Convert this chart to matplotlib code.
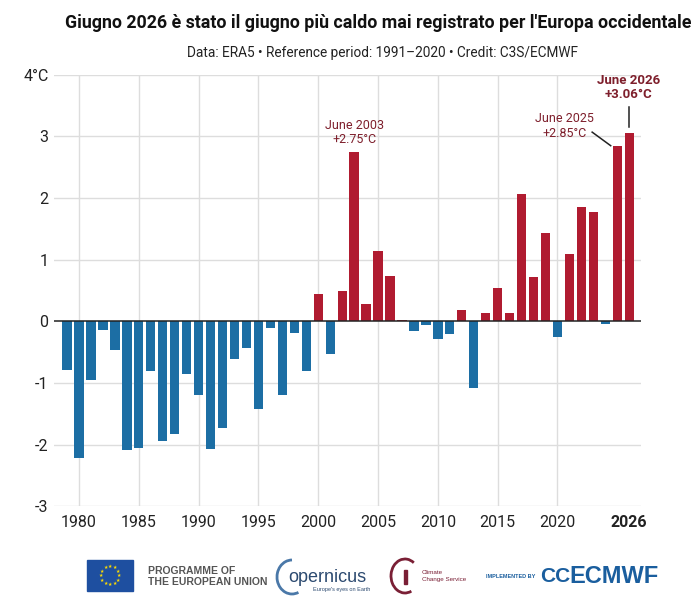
import numpy as np
import matplotlib
matplotlib.use("Agg")
import matplotlib.pyplot as plt
from matplotlib.patches import Rectangle, Arc
from matplotlib import font_manager

# anomalies of June temperature, western Europe (ERA5, vs 1991-2020)
years = list(range(1979, 2027))
anomaly = [-0.79, -2.21, -0.95, -0.14, -0.47, -2.09, -2.06, -0.81, -1.94, -1.82,
           -0.85, -1.20, -2.07, -1.72, -0.61, -0.43, -1.42, -0.10, -1.19, -0.18,
           -0.81, 0.45, -0.52, 0.50, 2.75, 0.29, 1.15, 0.74, 0.02, -0.16,
           -0.06, -0.28, -0.21, 0.19, -1.08, 0.14, 0.54, 0.14, 2.06, 0.72,
           1.43, -0.26, 1.10, 1.86, 1.78, -0.04, 2.85, 3.06]
xticks = [1980, 1985, 1990, 1995, 2000, 2005, 2010, 2015, 2020, 2026]
yticks = [-3, -2, -1, 0, 1, 2, 3, 4]
ylabels = ["-3", "-2", "-1", "0", "1", "2", "3", "4°C"]

names = {f.name for f in font_manager.fontManager.ttflist}
fam = "Liberation Sans Narrow" if "Liberation Sans Narrow" in names else "Roboto"
plt.rcParams['font.family'] = [fam, 'DejaVu Sans']

BLUE = "#1c6ea4"
RED = "#b01b30"
DARKRED = "#7e1f2c"
GRID = "#dddddd"

fig = plt.figure(figsize=(7, 6.08), dpi=100)
ax = fig.add_axes([0.077, 0.167, 0.839, 0.710])

colors = [RED if v > 0 else BLUE for v in anomaly]
ax.bar(years, anomaly, width=0.78, color=colors, zorder=3)

ax.set_xlim(1977.9, 2027.0)
ax.set_ylim(-3, 4)
for x in xticks[:-1]:
    ax.axvline(x, color=GRID, lw=1, zorder=1)
for y in yticks:
    if y != 0:
        ax.axhline(y, color=GRID, lw=1, zorder=1)
ax.axhline(0, color="#222222", lw=1.1, zorder=4)

for s in ax.spines.values():
    s.set_visible(False)
ax.tick_params(length=0, labelsize=11.5, colors="#222222")
ax.set_yticks(yticks)
ax.set_yticklabels(ylabels)
ax.set_xticks(xticks)
ax.set_xticklabels([str(x) for x in xticks])
ax.get_xticklabels()[-1].set_fontweight("bold")
ax.tick_params(axis="x", pad=6)
ax.tick_params(axis="y", pad=4)

# annotations
ax.text(2003, 2.84, "June 2003\n+2.75°C", ha="center", va="bottom",
        color=DARKRED, fontsize=9, linespacing=1.15, zorder=5)
ax.text(2020.6, 2.95, "June 2025\n+2.85°C", ha="center", va="bottom",
        color=DARKRED, fontsize=9, linespacing=1.15, zorder=5)
ax.plot([2022.9, 2024.45], [3.07, 2.85], color="#222222", lw=1.1, zorder=5)
ax.text(2025.95, 3.57, "June 2026\n+3.06°C", ha="center", va="bottom",
        color=DARKRED, fontsize=9.5, fontweight="bold", linespacing=1.15, zorder=5)
ax.plot([2026, 2026], [3.15, 3.47], color="#222222", lw=1.1, zorder=5)

# titles
fig.text(0.541, 0.962, "Giugno 2026 è stato il giugno più caldo mai registrato per l'Europa occidentale",
         ha="center", va="center", fontsize=12.8, fontweight="bold", color="#111111")
fig.text(0.546, 0.913, "Data: ERA5 • Reference period: 1991–2020 • Credit: C3S/ECMWF",
         ha="center", va="center", fontsize=9.8, color="#222222")

# logo strip
W, H = 700, 608
def fx(p): return p / W
def fy(p): return 1 - p / H

fig.patches.append(Rectangle((fx(87), fy(591)), fx(46), 31 / H, transform=fig.transFigure,
                             color="#1e4fa0", zorder=2))
cx, cy, r = 110, 575.5, 9
for k in range(12):
    a = 2 * np.pi * k / 12
    fig.text(fx(cx + r * np.cos(a)), fy(cy + r * np.sin(a)), "★", ha="center", va="center",
             fontsize=3.5, color="#ffdd00", family="DejaVu Sans")
fig.text(fx(148), fy(571), "PROGRAMME OF", fontsize=7.5, fontweight="bold", color="#555555",
         va="center", family="Liberation Sans")
fig.text(fx(148), fy(582), "THE EUROPEAN UNION", fontsize=7.5, fontweight="bold", color="#555555",
         va="center", family="Liberation Sans")

fig.patches.append(Arc((fx(292), fy(577)), 30 / W, 34 / H, theta1=90, theta2=290,
                       transform=fig.transFigure, color="#4a78a8", lw=2))
fig.text(fx(288), fy(578), "opernicus", fontsize=13, color="#2c4a70", va="center",
         family="Liberation Sans")
fig.text(fx(313), fy(589.5), "Europe's eyes on Earth", fontsize=4, color="#2c4a70", va="center",
         family="Liberation Sans")

fig.patches.append(Arc((fx(405), fy(576)), 28 / W, 34 / H, theta1=60, theta2=290,
                       transform=fig.transFigure, color="#7a1f35", lw=2))
fig.patches.append(Rectangle((fx(403.5), fy(584)), 3 / W, 14 / H, transform=fig.transFigure,
                             color="#7a1f35"))
fig.text(fx(422), fy(572.5), "Climate", fontsize=4.5, color="#7a1f35", va="center",
         family="Liberation Sans")
fig.text(fx(422), fy(579), "Change Service", fontsize=4.5, color="#7a1f35", va="center",
         family="Liberation Sans")

fig.text(fx(486), fy(576.5), "IMPLEMENTED BY", fontsize=4, color="#1a5e9e", va="center",
         fontweight="bold", family="Liberation Sans")
fig.text(fx(540), fy(576.5), "CC", fontsize=15, color="#1a5e9e", va="center",
         fontweight="bold", family="Liberation Sans")
fig.text(fx(569), fy(576.5), "ECMWF", fontsize=17, color="#1a5e9e", va="center",
         fontweight="bold", family="Liberation Sans")

fig.savefig("out.png", dpi=100, facecolor="white")
